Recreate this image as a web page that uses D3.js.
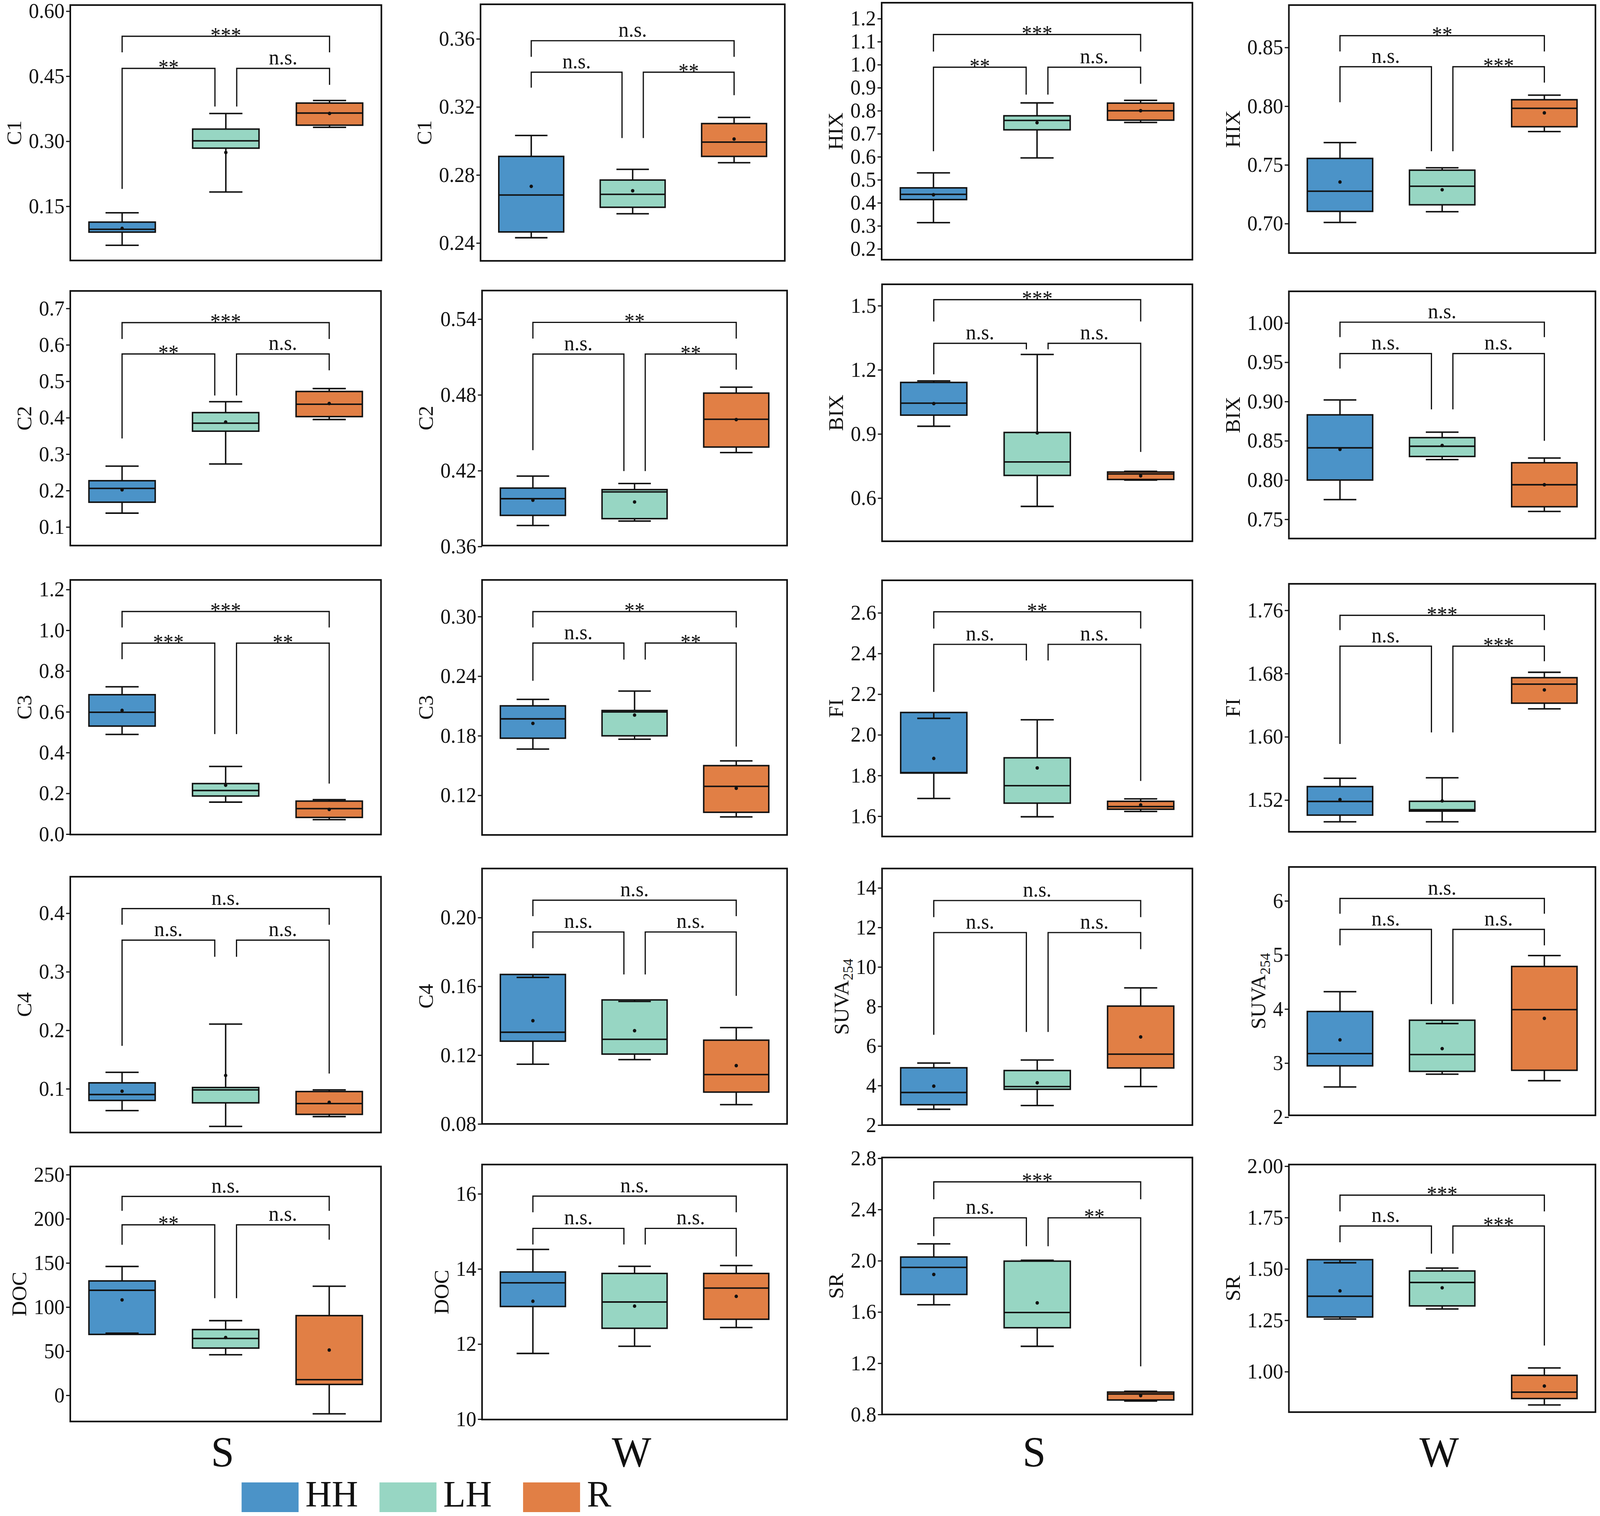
<!DOCTYPE html>
<html>
<head>
<meta charset="utf-8">
<script src="https://d3js.org/d3.v7.min.js"></script>
<style>
  html, body { margin: 0; padding: 0; background: #fff; overflow: hidden; }
  svg { display: block; width: 100vw; height: 100vh; font-family: "Liberation Serif", "Times New Roman", serif; }
</style>
</head>
<body>
<svg id="chart" viewBox="0 0 4212 3882" preserveAspectRatio="none"></svg>
<script>
// ---- data (panels in reading order, row by row) ----
var groups = ['HH', 'LH', 'R'];
var seasons = ['S', 'W', 'S', 'W'];
var variables = ['C1', 'C1', 'HIX', 'HIX', 'C2', 'C2', 'BIX', 'BIX', 'C3', 'C3',
                 'FI', 'FI', 'C4', 'C4', 'SUVA254', 'SUVA254', 'DOC', 'DOC', 'SR', 'SR'];

var yDomains = [
  [0.025, 0.614], [0.2295, 0.3803], [0.153, 1.269], [0.6749, 0.8861],
  [0.049, 0.748], [0.3607, 0.5626], [0.398, 1.600], [0.7255, 1.0403],
  [-0.002, 1.247], [0.0801, 0.3369], [1.500, 2.760], [1.4798, 1.7935],
  [0.0253, 0.4624], [0.080, 0.2285], [2.0, 14.98], [2.034, 6.627],
  [-29.7, 259.3], [9.99, 16.78], [0.80, 2.806], [0.803, 2.008]
];

var yTicks = [
  [0.15, 0.30, 0.45, 0.60], [0.24, 0.28, 0.32, 0.36],
  [0.2, 0.3, 0.4, 0.5, 0.6, 0.7, 0.8, 0.9, 1.0, 1.1, 1.2], [0.70, 0.75, 0.80, 0.85],
  [0.1, 0.2, 0.3, 0.4, 0.5, 0.6, 0.7], [0.36, 0.42, 0.48, 0.54],
  [0.6, 0.9, 1.2, 1.5], [0.75, 0.80, 0.85, 0.90, 0.95, 1.00],
  [0.0, 0.2, 0.4, 0.6, 0.8, 1.0, 1.2], [0.12, 0.18, 0.24, 0.30],
  [1.6, 1.8, 2.0, 2.2, 2.4, 2.6], [1.52, 1.60, 1.68, 1.76],
  [0.1, 0.2, 0.3, 0.4], [0.08, 0.12, 0.16, 0.20],
  [2, 4, 6, 8, 10, 12, 14], [2, 3, 4, 5, 6],
  [0, 50, 100, 150, 200, 250], [10, 12, 14, 16],
  [0.8, 1.2, 1.6, 2.0, 2.4, 2.8], [1.00, 1.25, 1.50, 1.75, 2.00]
];
var tickFormats = ['.2f', '.2f', '.1f', '.2f', '.1f', '.2f', '.1f', '.2f', '.1f', '.2f',
                   '.1f', '.2f', '.1f', '.2f', 'd', 'd', 'd', 'd', '.1f', '.2f'];

// box statistics per panel: [HH, LH, R]
var lowW = [
  [0.060, 0.183, 0.332], [0.2431, 0.2572, 0.2872], [0.314, 0.595, 0.749], [0.7010, 0.7101, 0.7784],
  [0.138, 0.273, 0.395], [0.3766, 0.3801, 0.4343], [0.936, 0.561, 0.684], [0.775, 0.826, 0.760],
  [0.489, 0.157, 0.071], [0.1666, 0.1765, 0.0982], [1.687, 1.597, 1.623], [1.4925, 1.4925, 1.6354],
  [0.0627, 0.0357, 0.0525], [0.1147, 0.1174, 0.0912], [2.80, 2.99, 3.95], [2.559, 2.795, 2.675],
  [70.4, 45.9, -21.0], [11.75, 11.94, 12.44], [1.656, 1.332, 0.905], [1.256, 1.305, 0.838]
];
var q1 = [
  [0.0904, 0.284, 0.337], [0.2465, 0.2610, 0.2909], [0.414, 0.717, 0.759], [0.7104, 0.7160, 0.7825],
  [0.168, 0.363, 0.403], [0.3846, 0.3820, 0.4387], [0.988, 0.706, 0.687], [0.800, 0.830, 0.766],
  [0.530, 0.187, 0.082], [0.1775, 0.1799, 0.1029], [1.812, 1.664, 1.634], [1.5009, 1.5060, 1.6425],
  [0.0801, 0.0760, 0.0563], [0.1281, 0.1206, 0.0985], [3.03, 3.81, 4.89], [2.949, 2.847, 2.867],
  [69.0, 53.5, 12.3], [13.00, 12.42, 12.66], [1.737, 1.477, 0.913], [1.266, 1.320, 0.869]
];
var medians = [
  [0.097, 0.301, 0.365], [0.2682, 0.2686, 0.2993], [0.437, 0.758, 0.800], [0.7276, 0.7318, 0.7982],
  [0.206, 0.385, 0.437], [0.3978, 0.4032, 0.4607], [1.044, 0.769, 0.713], [0.841, 0.843, 0.794],
  [0.598, 0.214, 0.125], [0.1970, 0.2039, 0.1290], [1.814, 1.750, 1.647], [1.5182, 1.5077, 1.6666],
  [0.0902, 0.0981, 0.0747], [0.1333, 0.1292, 0.1087], [3.65, 3.95, 5.59], [3.176, 3.158, 3.988],
  [119.0, 64.4, 17.7], [13.63, 13.12, 13.49], [1.948, 1.596, 0.960], [1.367, 1.434, 0.900]
];
var q3 = [
  [0.1135, 0.328, 0.388], [0.2909, 0.2770, 0.3102], [0.465, 0.778, 0.833], [0.7555, 0.7455, 0.8055],
  [0.227, 0.414, 0.472], [0.4062, 0.4050, 0.4814], [1.141, 0.907, 0.722], [0.883, 0.854, 0.822],
  [0.684, 0.248, 0.162], [0.2101, 0.2054, 0.1499], [2.110, 1.887, 1.673], [1.5370, 1.5184, 1.6748],
  [0.1102, 0.1022, 0.0953], [0.1669, 0.1521, 0.1287], [4.90, 4.76, 8.02], [3.954, 3.793, 4.787],
  [129.6, 74.5, 90.3], [13.92, 13.88, 13.88], [2.029, 1.997, 0.975], [1.545, 1.490, 0.982]
];
var highW = [
  [0.135, 0.364, 0.394], [0.3032, 0.2833, 0.3138], [0.530, 0.834, 0.845], [0.7690, 0.7475, 0.8094],
  [0.267, 0.444, 0.480], [0.4157, 0.4098, 0.4861], [1.148, 1.272, 0.725], [0.902, 0.861, 0.828],
  [0.723, 0.332, 0.169], [0.2166, 0.2250, 0.1547], [2.081, 2.074, 1.685], [1.5475, 1.5482, 1.6816],
  [0.1282, 0.2106, 0.0981], [0.1652, 0.1512, 0.1360], [5.14, 5.29, 8.94], [4.320, 3.731, 4.989],
  [146.0, 84.6, 123.6], [14.52, 14.07, 14.09], [2.132, 2.004, 0.981], [1.530, 1.504, 1.018]
];
var means = [
  [0.099, 0.274, 0.364], [0.2733, 0.2707, 0.3011], [0.435, 0.748, 0.800], [0.7354, 0.7288, 0.7943],
  [0.202, 0.388, 0.439], [0.3966, 0.3952, 0.4604], [1.042, 0.905, 0.704], [0.839, 0.844, 0.794],
  [0.607, 0.240, 0.121], [0.1924, 0.2008, 0.1271], [1.884, 1.837, 1.655], [1.5206, 1.5189, 1.6593],
  [0.0959, 0.1228, 0.0769], [0.1400, 0.1342, 0.1139], [3.97, 4.14, 6.46], [3.429, 3.268, 3.827],
  [108.1, 65.5, 51.3], [13.14, 13.01, 13.27], [1.893, 1.671, 0.947], [1.393, 1.408, 0.930]
];

// significance brackets: bar heights [pairs, HH-R] and leg ends [HH, LH, R, HH-R legs]
var bracketBars = [
  [0.468, 0.542], [0.3404, 0.3589], [0.989, 1.131], [0.8336, 0.8600],
  [0.575, 0.661], [0.5123, 0.5374], [1.324, 1.528], [0.961, 1.001],
  [0.937, 1.092], [0.2733, 0.3050], [2.445, 2.605], [1.7146, 1.7537],
  [0.3541, 0.4079], [0.1916, 0.2101], [11.74, 13.36], [5.472, 6.045],
  [193.2, 225.4], [15.08, 15.94], [2.335, 2.616], [1.709, 1.859]
];
var legEnds = [
  [0.190, 0.380, 0.430, 0.505], [0.3313, 0.3017, 0.3269, 0.3494],
  [0.624, 0.870, 0.917, 1.057], [0.8034, 0.7616, 0.8201, 0.8466],
  [0.343, 0.461, 0.530, 0.616], [0.4362, 0.4197, 0.5000, 0.5246],
  [1.179, 1.296, 0.816, 1.426], [0.942, 0.890, 0.850, 0.982],
  [0.858, 0.491, 0.248, 1.014], [0.2353, 0.2567, 0.1691, 0.2890],
  [2.211, 2.366, 1.773, 2.523], [1.5910, 1.6055, 1.6956, 1.7349],
  [0.1735, 0.3256, 0.1260, 0.3804], [0.1822, 0.1669, 0.1545, 0.2008],
  [6.57, 6.71, 10.90, 12.52], [5.177, 4.091, 5.177, 5.763],
  [170.6, 110.0, 176.3, 209.1], [14.65, 14.65, 14.33, 15.51],
  [2.192, 2.113, 1.176, 2.480], [1.630, 1.574, 1.127, 1.780]
];
// labels: [HH-LH, LH-R, HH-R]
var sigLabels = [
  ['**', 'n.s.', '***'], ['n.s.', '**', 'n.s.'], ['**', 'n.s.', '***'], ['n.s.', '***', '**'],
  ['**', 'n.s.', '***'], ['n.s.', '**', '**'], ['n.s.', 'n.s.', '***'], ['n.s.', 'n.s.', 'n.s.'],
  ['***', '**', '***'], ['n.s.', '**', '**'], ['n.s.', 'n.s.', '**'], ['n.s.', '***', '***'],
  ['n.s.', 'n.s.', 'n.s.'], ['n.s.', 'n.s.', 'n.s.'], ['n.s.', 'n.s.', 'n.s.'], ['n.s.', 'n.s.', 'n.s.'],
  ['**', 'n.s.', 'n.s.'], ['n.s.', 'n.s.', 'n.s.'], ['n.s.', '**', '***'], ['n.s.', '***', '***']
];

// ---- layout and style ----
var colors = ['#4b93c8', '#97d6c3', '#e17f45'];
// panel frames [left, top, right, bottom]
var frames = [
  [185, 13, 1004, 667], [1265, 11, 2066, 668], [2321, 7, 3139, 665], [3393, 13, 4200, 648],
  [185, 745, 1003, 1397], [1269, 744, 2072, 1397], [2322, 728, 3139, 1386], [3393, 746, 4200, 1379],
  [185, 1485, 1003, 2137], [1269, 1485, 2072, 2138], [2322, 1486, 3139, 2142], [3393, 1495, 4200, 2130],
  [185, 2245, 1003, 2900], [1269, 2224, 2072, 2878], [2322, 2224, 3139, 2881], [3393, 2220, 4200, 2856],
  [185, 2987, 1003, 3640], [1269, 2982, 2072, 3635], [2322, 2964, 3139, 3622], [3393, 2982, 4200, 3616]
];
var boxHalf = 0.32, capHalf = 0.16, legGap = 0.105;
var tickFont = 54, annFont = 54;

var svg = d3.select('#chart');
svg.append('rect').attr('width', 4212).attr('height', 3882).attr('fill', '#fff');

frames.forEach(function(f, p) {
  var x = d3.scaleLinear().domain([-0.5, 2.5]).range([f[0], f[2]]);
  var y = d3.scaleLinear().domain(yDomains[p]).range([f[3], f[1]]);
  var g = svg.append('g').attr('class', 'panel');

  var stats = groups.map(function(name, i) {
    return { i: i, lo: lowW[p][i], q1: q1[p][i], med: medians[p][i],
             q3: q3[p][i], hi: highW[p][i], mean: means[p][i] };
  });

  var box = g.selectAll('g.box').data(stats).enter().append('g').attr('class', 'box')
    .attr('stroke', '#111').attr('stroke-width', 3.8);

  box.append('rect')
    .attr('x', function(d) { return x(d.i - boxHalf); })
    .attr('width', function(d) { return x(d.i + boxHalf) - x(d.i - boxHalf); })
    .attr('y', function(d) { return y(d.q3); })
    .attr('height', function(d) { return y(d.q1) - y(d.q3); })
    .attr('fill', function(d) { return colors[d.i]; });

  // whiskers
  box.append('line')
    .attr('x1', function(d) { return x(d.i); }).attr('x2', function(d) { return x(d.i); })
    .attr('y1', function(d) { return y(d.q1); }).attr('y2', function(d) { return y(d.lo); });
  box.append('line')
    .attr('x1', function(d) { return x(d.i); }).attr('x2', function(d) { return x(d.i); })
    .attr('y1', function(d) { return y(d.q3); }).attr('y2', function(d) { return y(d.hi); });
  // caps
  ['lo', 'hi'].forEach(function(k) {
    box.append('line')
      .attr('x1', function(d) { return x(d.i - capHalf); })
      .attr('x2', function(d) { return x(d.i + capHalf); })
      .attr('y1', function(d) { return y(d[k]); })
      .attr('y2', function(d) { return y(d[k]); });
  });
  // median
  box.append('line')
    .attr('x1', function(d) { return x(d.i - boxHalf); })
    .attr('x2', function(d) { return x(d.i + boxHalf); })
    .attr('y1', function(d) { return y(d.med); })
    .attr('y2', function(d) { return y(d.med); });
  // mean
  box.append('circle')
    .attr('cx', function(d) { return x(d.i); })
    .attr('cy', function(d) { return y(d.mean); })
    .attr('r', 4.5).attr('fill', '#111').attr('stroke', 'none');

  // significance brackets
  var bars = bracketBars[p], legs = legEnds[p], labs = sigLabels[p];
  var brackets = [
    { x1: 0, x2: 1 - legGap, bar: bars[0], l1: legs[0], l2: legs[1], text: labs[0] },
    { x1: 1 + legGap, x2: 2, bar: bars[0], l1: legs[1], l2: legs[2], text: labs[1] },
    { x1: 0, x2: 2, bar: bars[1], l1: legs[3], l2: legs[3], text: labs[2] }
  ];
  g.selectAll('path.bracket').data(brackets).enter().append('path')
    .attr('class', 'bracket')
    .attr('fill', 'none').attr('stroke', '#111').attr('stroke-width', 3.2)
    .attr('d', function(d) {
      return 'M' + x(d.x1) + ',' + y(d.l1) + 'V' + y(d.bar) +
             'H' + x(d.x2) + 'V' + y(d.l2);
    });
  g.selectAll('text.sig').data(brackets).enter().append('text')
    .attr('class', 'sig')
    .attr('x', function(d) { return (x(d.x1) + x(d.x2)) / 2; })
    .attr('y', function(d) { return y(d.bar) + (d.text === 'n.s.' ? -10 : 15); })
    .attr('text-anchor', 'middle')
    .attr('font-size', annFont).attr('fill', '#111')
    .text(function(d) { return d.text; });

  // frame
  g.append('rect')
    .attr('x', f[0]).attr('y', f[1])
    .attr('width', f[2] - f[0]).attr('height', f[3] - f[1])
    .attr('fill', 'none').attr('stroke', '#111').attr('stroke-width', 4.2);

  // y axis
  var axisG = g.append('g')
    .attr('transform', 'translate(' + f[0] + ',0)')
    .call(d3.axisLeft(y).tickValues(yTicks[p]).tickFormat(d3.format(tickFormats[p]))
      .tickSize(11).tickPadding(4));
  axisG.select('.domain').remove();
  axisG.selectAll('.tick line').attr('stroke', '#111').attr('stroke-width', 3);
  axisG.selectAll('.tick text')
    .attr('font-family', '"Liberation Serif", "Times New Roman", serif')
    .attr('font-size', tickFont).attr('fill', '#111');

  var bb = axisG.node().getBBox();
  var lx = f[0] + bb.x - 20, ly = (f[1] + f[3]) / 2;
  var lab = g.append('text')
    .attr('transform', 'translate(' + lx + ',' + ly + ') rotate(-90)')
    .attr('text-anchor', 'middle')
    .attr('font-size', tickFont).attr('fill', '#111');
  var name = variables[p];
  if (name.indexOf('SUVA') === 0) {
    lab.append('tspan').text('SUVA');
    lab.append('tspan').attr('font-size', tickFont * 0.68).attr('dy', 12).text(name.slice(4));
  } else {
    lab.text(name);
  }
});

// season labels under the bottom row
svg.selectAll('text.season').data(seasons).enter().append('text')
  .attr('class', 'season')
  .attr('x', function(d, i) { var f = frames[16 + i]; return (f[0] + f[2]) / 2 - 8; })
  .attr('y', 3755)
  .attr('text-anchor', 'middle')
  .attr('font-size', 110).attr('fill', '#111')
  .text(function(d) { return d; });

// legend
var legendX = [636, 999, 1377];
var leg = svg.selectAll('g.legend').data(groups).enter().append('g').attr('class', 'legend')
  .attr('transform', function(d, i) { return 'translate(' + legendX[i] + ',3796)'; });
leg.append('rect').attr('width', 150).attr('height', 76)
  .attr('fill', function(d, i) { return colors[i]; });
leg.append('text').attr('x', 168).attr('y', 62)
  .attr('font-size', 96).attr('fill', '#111')
  .text(function(d) { return d; });
</script>
</body>
</html>
